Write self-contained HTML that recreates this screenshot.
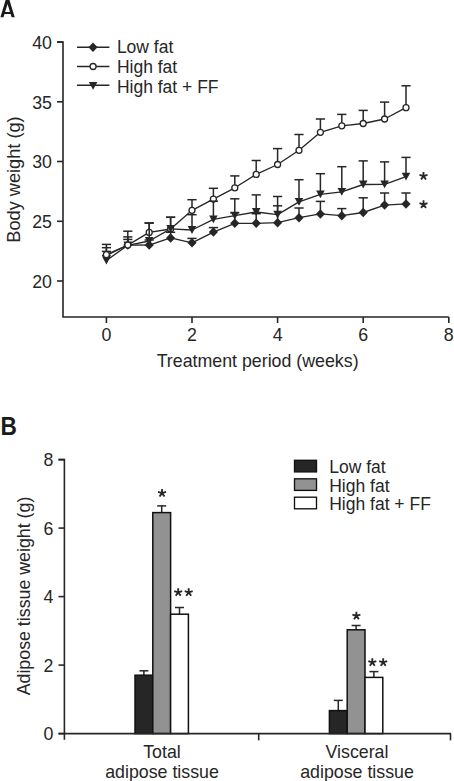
<!DOCTYPE html>
<html><head><meta charset="utf-8"><title>Figure</title>
<style>
html,body{margin:0;padding:0;background:#fff;}
body{width:454px;height:781px;overflow:hidden;font-family:"Liberation Sans",sans-serif;}
svg{display:block;}
</style></head><body>
<svg width="454" height="781" viewBox="0 0 454 781">
<g stroke="#262626" stroke-width="1.35" fill="none" stroke-linejoin="round">
<polyline points="106.40,255.50 127.80,245.00 149.20,245.10 170.60,237.90 192.00,242.80 213.40,232.10 234.80,223.30 256.20,223.30 277.60,222.70 299.00,217.70 320.40,213.90 341.80,215.70 363.20,212.50 384.60,205.10 406.00,203.90" fill="none"/>
<polyline points="106.40,254.70 127.80,245.10 149.20,232.40 170.60,229.00 192.00,210.30 213.40,199.10 234.80,187.80 256.20,174.40 277.60,164.50 299.00,150.30 320.40,132.30 341.80,125.80 363.20,123.50 384.60,119.00 406.00,107.70" fill="none"/>
<polyline points="106.40,260.50 127.80,245.30 149.20,241.00 170.60,228.80 192.00,230.00 213.40,219.40 234.80,215.70 256.20,212.00 277.60,214.70 299.00,201.90 320.40,194.30 341.80,191.80 363.20,184.50 384.60,184.30 406.00,176.70" fill="none"/>
</g>
<g stroke="#262626" stroke-width="1.5" fill="none"><line x1="106.40" y1="254.70" x2="106.40" y2="244.40"/>
<line x1="101.80" y1="244.40" x2="111.00" y2="244.40"/>
<line x1="127.80" y1="245.10" x2="127.80" y2="231.20"/>
<line x1="123.20" y1="231.20" x2="132.40" y2="231.20"/>
<line x1="149.20" y1="232.40" x2="149.20" y2="222.90"/>
<line x1="144.60" y1="222.90" x2="153.80" y2="222.90"/>
<line x1="170.60" y1="229.00" x2="170.60" y2="217.30"/>
<line x1="166.00" y1="217.30" x2="175.20" y2="217.30"/>
<line x1="192.00" y1="210.30" x2="192.00" y2="199.70"/>
<line x1="187.40" y1="199.70" x2="196.60" y2="199.70"/>
<line x1="213.40" y1="199.10" x2="213.40" y2="188.30"/>
<line x1="208.80" y1="188.30" x2="218.00" y2="188.30"/>
<line x1="234.80" y1="187.80" x2="234.80" y2="175.90"/>
<line x1="230.20" y1="175.90" x2="239.40" y2="175.90"/>
<line x1="256.20" y1="174.40" x2="256.20" y2="160.50"/>
<line x1="251.60" y1="160.50" x2="260.80" y2="160.50"/>
<line x1="277.60" y1="164.50" x2="277.60" y2="148.60"/>
<line x1="273.00" y1="148.60" x2="282.20" y2="148.60"/>
<line x1="299.00" y1="150.30" x2="299.00" y2="134.50"/>
<line x1="294.40" y1="134.50" x2="303.60" y2="134.50"/>
<line x1="320.40" y1="132.30" x2="320.40" y2="119.00"/>
<line x1="315.80" y1="119.00" x2="325.00" y2="119.00"/>
<line x1="341.80" y1="125.80" x2="341.80" y2="114.40"/>
<line x1="337.20" y1="114.40" x2="346.40" y2="114.40"/>
<line x1="363.20" y1="123.50" x2="363.20" y2="110.40"/>
<line x1="358.60" y1="110.40" x2="367.80" y2="110.40"/>
<line x1="384.60" y1="119.00" x2="384.60" y2="102.10"/>
<line x1="380.00" y1="102.10" x2="389.20" y2="102.10"/>
<line x1="406.00" y1="107.70" x2="406.00" y2="85.80"/>
<line x1="401.40" y1="85.80" x2="410.60" y2="85.80"/></g>
<g fill="#fff" stroke="#262626" stroke-width="1.3">
<circle cx="149.20" cy="232.40" r="3.0"/>
<circle cx="170.60" cy="229.00" r="3.0"/>
<circle cx="192.00" cy="210.30" r="3.0"/>
<circle cx="213.40" cy="199.10" r="3.0"/>
<circle cx="234.80" cy="187.80" r="3.0"/>
<circle cx="256.20" cy="174.40" r="3.0"/>
<circle cx="277.60" cy="164.50" r="3.0"/>
<circle cx="299.00" cy="150.30" r="3.0"/>
<circle cx="320.40" cy="132.30" r="3.0"/>
<circle cx="341.80" cy="125.80" r="3.0"/>
<circle cx="363.20" cy="123.50" r="3.0"/>
<circle cx="384.60" cy="119.00" r="3.0"/>
<circle cx="406.00" cy="107.70" r="3.0"/>
</g>
<g stroke="#262626" stroke-width="1.5" fill="none"><line x1="106.40" y1="255.50" x2="106.40" y2="251.40"/>
<line x1="101.80" y1="251.40" x2="111.00" y2="251.40"/>
<line x1="127.80" y1="245.00" x2="127.80" y2="239.40"/>
<line x1="123.20" y1="239.40" x2="132.40" y2="239.40"/>
<line x1="149.20" y1="245.10" x2="149.20" y2="240.00"/>
<line x1="144.60" y1="240.00" x2="153.80" y2="240.00"/>
<line x1="170.60" y1="237.90" x2="170.60" y2="232.30"/>
<line x1="166.00" y1="232.30" x2="175.20" y2="232.30"/>
<line x1="192.00" y1="242.80" x2="192.00" y2="238.40"/>
<line x1="187.40" y1="238.40" x2="196.60" y2="238.40"/>
<line x1="213.40" y1="232.10" x2="213.40" y2="227.60"/>
<line x1="208.80" y1="227.60" x2="218.00" y2="227.60"/>
<line x1="234.80" y1="223.30" x2="234.80" y2="212.80"/>
<line x1="230.20" y1="212.80" x2="239.40" y2="212.80"/>
<line x1="256.20" y1="223.30" x2="256.20" y2="213.70"/>
<line x1="251.60" y1="213.70" x2="260.80" y2="213.70"/>
<line x1="277.60" y1="222.70" x2="277.60" y2="205.80"/>
<line x1="273.00" y1="205.80" x2="282.20" y2="205.80"/>
<line x1="299.00" y1="217.70" x2="299.00" y2="208.00"/>
<line x1="294.40" y1="208.00" x2="303.60" y2="208.00"/>
<line x1="320.40" y1="213.90" x2="320.40" y2="201.40"/>
<line x1="315.80" y1="201.40" x2="325.00" y2="201.40"/>
<line x1="341.80" y1="215.70" x2="341.80" y2="208.60"/>
<line x1="337.20" y1="208.60" x2="346.40" y2="208.60"/>
<line x1="363.20" y1="212.50" x2="363.20" y2="197.80"/>
<line x1="358.60" y1="197.80" x2="367.80" y2="197.80"/>
<line x1="384.60" y1="205.10" x2="384.60" y2="193.00"/>
<line x1="380.00" y1="193.00" x2="389.20" y2="193.00"/>
<line x1="406.00" y1="203.90" x2="406.00" y2="193.00"/>
<line x1="401.40" y1="193.00" x2="410.60" y2="193.00"/></g>
<g fill="#262626" stroke="none">
<path d="M106.40 250.75L111.00 255.50L106.40 260.25L101.80 255.50Z"/>
<path d="M127.80 240.25L132.40 245.00L127.80 249.75L123.20 245.00Z"/>
<path d="M149.20 240.35L153.80 245.10L149.20 249.85L144.60 245.10Z"/>
<path d="M170.60 233.15L175.20 237.90L170.60 242.65L166.00 237.90Z"/>
<path d="M192.00 238.05L196.60 242.80L192.00 247.55L187.40 242.80Z"/>
<path d="M213.40 227.35L218.00 232.10L213.40 236.85L208.80 232.10Z"/>
<path d="M234.80 218.55L239.40 223.30L234.80 228.05L230.20 223.30Z"/>
<path d="M256.20 218.55L260.80 223.30L256.20 228.05L251.60 223.30Z"/>
<path d="M277.60 217.95L282.20 222.70L277.60 227.45L273.00 222.70Z"/>
<path d="M299.00 212.95L303.60 217.70L299.00 222.45L294.40 217.70Z"/>
<path d="M320.40 209.15L325.00 213.90L320.40 218.65L315.80 213.90Z"/>
<path d="M341.80 210.95L346.40 215.70L341.80 220.45L337.20 215.70Z"/>
<path d="M363.20 207.75L367.80 212.50L363.20 217.25L358.60 212.50Z"/>
<path d="M384.60 200.35L389.20 205.10L384.60 209.85L380.00 205.10Z"/>
<path d="M406.00 199.15L410.60 203.90L406.00 208.65L401.40 203.90Z"/>
</g>
<g stroke="#262626" stroke-width="1.5" fill="none"><line x1="106.40" y1="260.50" x2="106.40" y2="247.70"/>
<line x1="101.80" y1="247.70" x2="111.00" y2="247.70"/>
<line x1="127.80" y1="245.30" x2="127.80" y2="236.90"/>
<line x1="123.20" y1="236.90" x2="132.40" y2="236.90"/>
<line x1="149.20" y1="241.00" x2="149.20" y2="223.20"/>
<line x1="144.60" y1="223.20" x2="153.80" y2="223.20"/>
<line x1="170.60" y1="228.80" x2="170.60" y2="217.20"/>
<line x1="166.00" y1="217.20" x2="175.20" y2="217.20"/>
<line x1="192.00" y1="230.00" x2="192.00" y2="214.70"/>
<line x1="187.40" y1="214.70" x2="196.60" y2="214.70"/>
<line x1="213.40" y1="219.40" x2="213.40" y2="201.20"/>
<line x1="208.80" y1="201.20" x2="218.00" y2="201.20"/>
<line x1="234.80" y1="215.70" x2="234.80" y2="198.80"/>
<line x1="230.20" y1="198.80" x2="239.40" y2="198.80"/>
<line x1="256.20" y1="212.00" x2="256.20" y2="194.90"/>
<line x1="251.60" y1="194.90" x2="260.80" y2="194.90"/>
<line x1="277.60" y1="214.70" x2="277.60" y2="196.50"/>
<line x1="273.00" y1="196.50" x2="282.20" y2="196.50"/>
<line x1="299.00" y1="201.90" x2="299.00" y2="179.70"/>
<line x1="294.40" y1="179.70" x2="303.60" y2="179.70"/>
<line x1="320.40" y1="194.30" x2="320.40" y2="173.70"/>
<line x1="315.80" y1="173.70" x2="325.00" y2="173.70"/>
<line x1="341.80" y1="191.80" x2="341.80" y2="166.70"/>
<line x1="337.20" y1="166.70" x2="346.40" y2="166.70"/>
<line x1="363.20" y1="184.50" x2="363.20" y2="160.90"/>
<line x1="358.60" y1="160.90" x2="367.80" y2="160.90"/>
<line x1="384.60" y1="184.30" x2="384.60" y2="161.90"/>
<line x1="380.00" y1="161.90" x2="389.20" y2="161.90"/>
<line x1="406.00" y1="176.70" x2="406.00" y2="157.40"/>
<line x1="401.40" y1="157.40" x2="410.60" y2="157.40"/></g>
<g fill="#262626" stroke="none">
<path d="M102.10 256.60L110.70 256.60L106.40 264.40Z"/>
<path d="M123.50 241.40L132.10 241.40L127.80 249.20Z"/>
<path d="M144.90 237.10L153.50 237.10L149.20 244.90Z"/>
<path d="M166.30 224.90L174.90 224.90L170.60 232.70Z"/>
<path d="M187.70 226.10L196.30 226.10L192.00 233.90Z"/>
<path d="M209.10 215.50L217.70 215.50L213.40 223.30Z"/>
<path d="M230.50 211.80L239.10 211.80L234.80 219.60Z"/>
<path d="M251.90 208.10L260.50 208.10L256.20 215.90Z"/>
<path d="M273.30 210.80L281.90 210.80L277.60 218.60Z"/>
<path d="M294.70 198.00L303.30 198.00L299.00 205.80Z"/>
<path d="M316.10 190.40L324.70 190.40L320.40 198.20Z"/>
<path d="M337.50 187.90L346.10 187.90L341.80 195.70Z"/>
<path d="M358.90 180.60L367.50 180.60L363.20 188.40Z"/>
<path d="M380.30 180.40L388.90 180.40L384.60 188.20Z"/>
<path d="M401.70 172.80L410.30 172.80L406.00 180.60Z"/>
</g>
<g fill="#fff" stroke="#262626" stroke-width="1.3">
<circle cx="106.40" cy="254.70" r="3.0"/>
<circle cx="127.80" cy="245.10" r="3.0"/>
</g>
<g stroke="#262626" stroke-width="1.6" fill="none">
<path d="M57 42H63V317.0H448.80"/>
<line x1="57" y1="42.0" x2="63" y2="42.0"/>
<line x1="57" y1="101.8" x2="63" y2="101.8"/>
<line x1="57" y1="161.5" x2="63" y2="161.5"/>
<line x1="57" y1="221.3" x2="63" y2="221.3"/>
<line x1="57" y1="281.0" x2="63" y2="281.0"/>
<line x1="106.40" y1="317.0" x2="106.40" y2="323"/>
<line x1="192.00" y1="317.0" x2="192.00" y2="323"/>
<line x1="277.60" y1="317.0" x2="277.60" y2="323"/>
<line x1="363.20" y1="317.0" x2="363.20" y2="323"/>
<line x1="448.80" y1="317.0" x2="448.80" y2="323"/>
</g>
<g font-family="Liberation Sans, sans-serif" font-size="17.8" fill="#262626">
<text x="52" y="48.8" text-anchor="end">40</text>
<text x="52" y="108.6" text-anchor="end">35</text>
<text x="52" y="168.3" text-anchor="end">30</text>
<text x="52" y="228.1" text-anchor="end">25</text>
<text x="52" y="287.8" text-anchor="end">20</text>
<text x="106.40" y="340.5" text-anchor="middle">0</text>
<text x="192.00" y="340.5" text-anchor="middle">2</text>
<text x="277.60" y="340.5" text-anchor="middle">4</text>
<text x="363.20" y="340.5" text-anchor="middle">6</text>
<text x="448.80" y="340.5" text-anchor="middle">8</text>
<text x="257.6" y="367.2" text-anchor="middle">Treatment period (weeks)</text>
<text transform="translate(19.8,179.5) rotate(-90)" text-anchor="middle" font-size="18.2">Body weight (g)</text>
<text x="116.9" y="53.0" font-size="17.5">Low fat</text>
<text x="116.9" y="72.8" font-size="17.5">High fat</text>
<text x="116.9" y="92.5" font-size="17.5">High fat + FF</text>
</g>
<g stroke="#262626" stroke-width="1.5">
<line x1="77" y1="47.2" x2="109.4" y2="47.2"/>
<line x1="77" y1="66.5" x2="109.4" y2="66.5"/>
<line x1="77" y1="85.2" x2="109.4" y2="85.2"/>
</g>
<g fill="#262626"><path d="M93.00 42.55L97.60 47.30L93.00 52.05L88.40 47.30Z"/><path d="M88.80 81.90L97.40 81.90L93.10 89.70Z"/></g>
<g fill="#fff" stroke="#262626" stroke-width="1.3"><circle cx="93.10" cy="66.50" r="3.0"/></g>
<line x1="143.90" y1="675.2" x2="143.90" y2="670.8" stroke="#262626" stroke-width="1.5"/>
<line x1="139.40" y1="670.8" x2="148.40" y2="670.8" stroke="#262626" stroke-width="1.5"/>
<line x1="161.70" y1="512.6" x2="161.70" y2="505.9" stroke="#262626" stroke-width="1.5"/>
<line x1="157.20" y1="505.9" x2="166.20" y2="505.9" stroke="#262626" stroke-width="1.5"/>
<line x1="179.50" y1="614.2" x2="179.50" y2="607.5" stroke="#262626" stroke-width="1.5"/>
<line x1="175.00" y1="607.5" x2="184.00" y2="607.5" stroke="#262626" stroke-width="1.5"/>
<rect x="135.00" y="675.2" width="17.8" height="58.40" fill="#262626" stroke="#111" stroke-width="1.5"/>
<rect x="152.80" y="512.6" width="17.8" height="221.00" fill="#929292" stroke="#111" stroke-width="1.5"/>
<rect x="170.60" y="614.2" width="17.8" height="119.40" fill="#ffffff" stroke="#111" stroke-width="1.5"/>
<line x1="338.30" y1="710.6" x2="338.30" y2="700.4" stroke="#262626" stroke-width="1.5"/>
<line x1="333.80" y1="700.4" x2="342.80" y2="700.4" stroke="#262626" stroke-width="1.5"/>
<line x1="356.10" y1="629.8" x2="356.10" y2="625.5" stroke="#262626" stroke-width="1.5"/>
<line x1="351.60" y1="625.5" x2="360.60" y2="625.5" stroke="#262626" stroke-width="1.5"/>
<line x1="373.90" y1="677.4" x2="373.90" y2="671.6" stroke="#262626" stroke-width="1.5"/>
<line x1="369.40" y1="671.6" x2="378.40" y2="671.6" stroke="#262626" stroke-width="1.5"/>
<rect x="329.40" y="710.6" width="17.8" height="23.00" fill="#262626" stroke="#111" stroke-width="1.5"/>
<rect x="347.20" y="629.8" width="17.8" height="103.80" fill="#929292" stroke="#111" stroke-width="1.5"/>
<rect x="365.00" y="677.4" width="17.8" height="56.20" fill="#ffffff" stroke="#111" stroke-width="1.5"/>
<g stroke="#262626" stroke-width="1.6" fill="none">
<path d="M58.5 459.6H64.4V739.8"/>
<path d="M58.5 733.6H451"/>
<line x1="58.5" y1="733.60" x2="64.4" y2="733.60"/>
<line x1="58.5" y1="665.10" x2="64.4" y2="665.10"/>
<line x1="58.5" y1="596.60" x2="64.4" y2="596.60"/>
<line x1="58.5" y1="528.10" x2="64.4" y2="528.10"/>
<line x1="58.5" y1="459.60" x2="64.4" y2="459.60"/>
<line x1="258.7" y1="733.6" x2="258.7" y2="740.3"/>
<line x1="450.5" y1="733.6" x2="450.5" y2="740.3"/>
</g>
<g font-family="Liberation Sans, sans-serif" font-size="17.8" fill="#262626">
<text x="53.3" y="740.4" text-anchor="end">0</text>
<text x="53.3" y="671.9" text-anchor="end">2</text>
<text x="53.3" y="603.4" text-anchor="end">4</text>
<text x="53.3" y="534.9" text-anchor="end">6</text>
<text x="53.3" y="466.4" text-anchor="end">8</text>
<text transform="translate(29.5,596) rotate(-90)" text-anchor="middle">Adipose tissue weight (g)</text>
<text x="162" y="758.2" text-anchor="middle">Total</text>
<text x="162" y="777.6" text-anchor="middle">adipose tissue</text>
<text x="357" y="758.2" text-anchor="middle">Visceral</text>
<text x="357" y="777.6" text-anchor="middle">adipose tissue</text>
<text x="329.2" y="472.8" font-size="17.5">Low fat</text>
<text x="329.2" y="491.5" font-size="17.5">High fat</text>
<text x="329.2" y="510.1" font-size="17.5">High fat + FF</text>
</g>
<rect x="294.5" y="460.3" width="22" height="11.6" fill="#262626" stroke="#111" stroke-width="1.35"/>
<rect x="294.5" y="478.8" width="22" height="11.6" fill="#929292" stroke="#111" stroke-width="1.35"/>
<rect x="294.5" y="497.2" width="22" height="11.6" fill="#ffffff" stroke="#111" stroke-width="1.35"/>
<path d="M423.50 176.10L423.50 171.90M423.50 176.10L427.49 174.80M423.50 176.10L425.97 179.50M423.50 176.10L421.03 179.50M423.50 176.10L419.51 174.80" stroke="#262626" stroke-width="1.85" fill="none"/>
<path d="M423.50 204.50L423.50 200.30M423.50 204.50L427.49 203.20M423.50 204.50L425.97 207.90M423.50 204.50L421.03 207.90M423.50 204.50L419.51 203.20" stroke="#262626" stroke-width="1.85" fill="none"/>
<path d="M162.00 493.10L162.00 488.90M162.00 493.10L165.99 491.80M162.00 493.10L164.47 496.50M162.00 493.10L159.53 496.50M162.00 493.10L158.01 491.80" stroke="#262626" stroke-width="1.85" fill="none"/>
<path d="M178.20 592.40L178.20 588.20M178.20 592.40L182.19 591.10M178.20 592.40L180.67 595.80M178.20 592.40L175.73 595.80M178.20 592.40L174.21 591.10" stroke="#262626" stroke-width="1.85" fill="none"/>
<path d="M188.70 592.40L188.70 588.20M188.70 592.40L192.69 591.10M188.70 592.40L191.17 595.80M188.70 592.40L186.23 595.80M188.70 592.40L184.71 591.10" stroke="#262626" stroke-width="1.85" fill="none"/>
<path d="M356.40 615.90L356.40 611.70M356.40 615.90L360.39 614.60M356.40 615.90L358.87 619.30M356.40 615.90L353.93 619.30M356.40 615.90L352.41 614.60" stroke="#262626" stroke-width="1.85" fill="none"/>
<path d="M372.30 662.40L372.30 658.20M372.30 662.40L376.29 661.10M372.30 662.40L374.77 665.80M372.30 662.40L369.83 665.80M372.30 662.40L368.31 661.10" stroke="#262626" stroke-width="1.85" fill="none"/>
<path d="M383.20 662.40L383.20 658.20M383.20 662.40L387.19 661.10M383.20 662.40L385.67 665.80M383.20 662.40L380.73 665.80M383.20 662.40L379.21 661.10" stroke="#262626" stroke-width="1.85" fill="none"/>
<path d="M0.4 17.2L5.8 -0.6L9.3 -0.6L14.7 17.2L11.6 17.2L10.65 14.1L4.45 14.1L3.5 17.2ZM5.12 11.9L7.55 3.92L9.98 11.9Z" fill="#1a1a1a" fill-rule="evenodd"/><g font-family="Liberation Sans, sans-serif" font-weight="bold" font-size="25.2" fill="#1a1a1a"><text x="0" y="435.0" transform="translate(0.4,0) scale(0.9,1)">B</text></g>
</svg>
</body></html>
